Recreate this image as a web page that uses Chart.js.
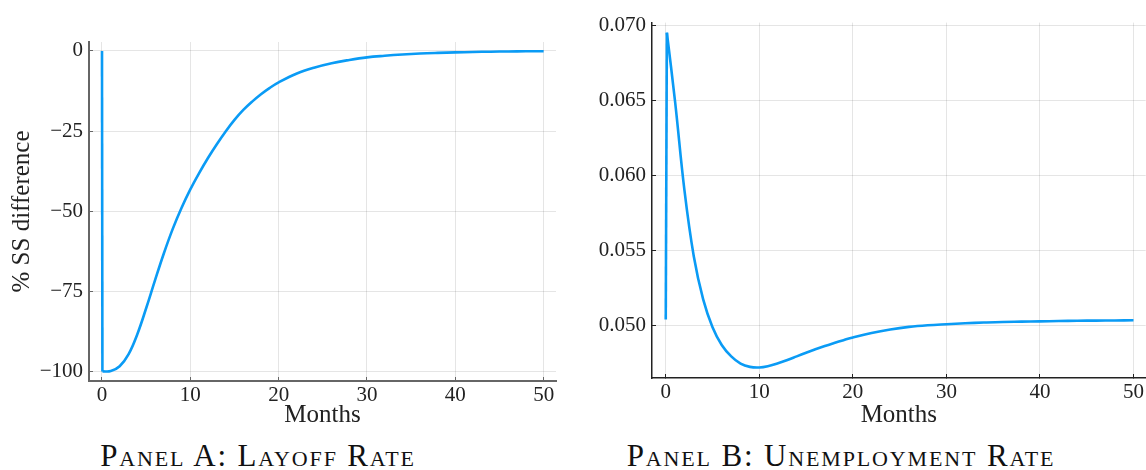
<!DOCTYPE html>
<html>
<head>
<meta charset="utf-8">
<script src="https://cdn.jsdelivr.net/npm/chart.js@4"></script>
<style>
	body { margin: 0; background: #fff; }
	#wrap { position: relative; width: 1146px; height: 470px; overflow: hidden; }
	.panel { position: absolute; top: 0; }
	.caption {
		position: absolute; top: 438px;
		font-family: 'Liberation Serif', serif; font-variant: small-caps;
		font-size: 31px; letter-spacing: 1.85px; color: #111; white-space: nowrap;
		transform: translateX(-50%);
	}
</style>
</head>
<body>
<div id="wrap">
	<canvas id="layoff" class="panel" style="left:0" width="573" height="430"></canvas>
	<canvas id="unemp" class="panel" style="left:573px" width="577" height="430"></canvas>
	<div class="caption" style="left:258px">Panel A: Layoff Rate</div>
	<div class="caption" style="left:841px">Panel B: Unemployment Rate</div>
</div>
<script>
// panel A: layoff rate, % difference from steady state
// first two points are the jump at t=0, the rest is the smooth response
var monthsA = [0, 0.05, 1, 2, 3, 4, 5, 6, 7, 8, 9, 10, 11, 12, 13, 14, 15, 16, 17, 18, 19, 20,
	22, 24, 26, 28, 30, 32, 34, 36, 38, 40, 42, 44, 46, 48, 50];
var layoffDiff = [0, -100, -99.9, -98.4, -94.7, -88.4, -80.3, -71.6, -63.2, -55.6, -49.0, -43.2, -38.1, -33.4,
	-29.1, -25.1, -21.5, -18.4, -15.8, -13.5, -11.5, -9.8, -7.1, -5.2, -3.8, -2.8, -2.0, -1.5, -1.1, -0.8,
	-0.6, -0.45, -0.32, -0.22, -0.15, -0.1, -0.08];

// panel B: unemployment rate
var monthsB = [0, 0.12, 1, 2, 3, 4, 5, 6, 7, 8, 9, 10, 11, 12, 13, 14, 15, 16, 17, 18, 19, 20,
	22, 24, 26, 28, 30, 32, 34, 36, 38, 40, 42, 44, 46, 48, 50];
var unempRate = [0.05042, 0.06950, 0.06490, 0.05900, 0.05460, 0.05175, 0.04990, 0.04870,
	0.04796, 0.04748, 0.04726, 0.04722, 0.04732, 0.04750, 0.04772, 0.04796, 0.04820, 0.04843, 0.04865,
	0.04885, 0.04904, 0.04922, 0.04952, 0.04975, 0.04992, 0.05003, 0.05010, 0.05016, 0.05021, 0.05025,
	0.05027, 0.05029, 0.05031, 0.05033, 0.05034, 0.05035, 0.05036];

var xTicks = [0, 10, 20, 30, 40, 50];
var yTicksA = [0, -25, -50, -75, -100];
var yTicksB = [0.050, 0.055, 0.060, 0.065, 0.070];

var serif = "'Liberation Serif', serif";
var lineBlue = '#0a9bf5';
var gridGray = 'rgba(0,0,0,0.1)';

// {x,y} points from index a to b (inclusive)
function to_points(xs, ys, a, b) {
	var pts = [];
	for (var i = a; i <= b; i++) {
		pts.push({x: xs[i], y: ys[i]});
	}
	return pts;
}

function fixed_ticks(values) {
	return function(scale) {
		scale.ticks = values.map(function(v) { return {value: v}; });
	};
}

// build one panel
var make_panel = function(id, opts) {
	var yTitle = opts.yTitle ? {
		display: true, text: opts.yTitle, color: '#222',
		font: {family: serif, size: 25}, padding: {top: 7, bottom: 0}
	} : {display: false};
	var last = opts.xs.length - 1;

	var line = function(pts, tension) {
		return {
			data: pts,
			borderColor: lineBlue,
			borderWidth: 2.6,
			pointRadius: 0,
			tension: tension,
			fill: false
		};
	};

	return new Chart(document.getElementById(id), {
		type: 'line',
		data: {
			datasets: [
				line(to_points(opts.xs, opts.ys, 0, 1), 0),      // jump at t=0
				line(to_points(opts.xs, opts.ys, 1, last), 0.4)  // response
			]
		},
		options: {
			responsive: false,
			animation: false,
			layout: {padding: {left: 0, top: opts.top, right: opts.right, bottom: 0}},
			plugins: {legend: {display: false}, tooltip: {enabled: false}},
			scales: {
				x: {
					type: 'linear',
					min: opts.xMin, max: opts.xMax,
					afterBuildTicks: fixed_ticks(xTicks),
					afterFit: function(scale) { scale.height = 430 - opts.bottom; },
					grid: {color: gridGray, lineWidth: 1, drawTicks: true, tickLength: -4,
						tickColor: opts.axisColor, tickWidth: 1},
					border: {display: true, color: opts.axisColor, width: opts.axisWidth},
					ticks: {color: '#222', font: {family: serif, size: 21}, padding: 6, maxRotation: 0},
					title: {display: true, text: 'Months', color: '#222',
						font: {family: serif, size: 25}, padding: {top: 0, bottom: 0}}
				},
				y: {
					min: opts.yMin, max: opts.yMax,
					afterBuildTicks: fixed_ticks(opts.yTicks),
					afterFit: function(scale) { scale.width = opts.left; },
					grid: {color: gridGray, lineWidth: 1, drawTicks: true, tickLength: -4,
						tickColor: opts.axisColor, tickWidth: 1},
					border: {display: true, color: opts.axisColor, width: opts.axisWidth},
					ticks: {color: '#222', font: {family: serif, size: 21}, padding: 10,
						callback: opts.fmt},
					title: yTitle
				}
			}
		}
	});
};

make_panel('layoff', {
	xs: monthsA, ys: layoffDiff,
	xMin: -1.47, xMax: 51.4, yMin: -103, yMax: 2.8,
	yTicks: yTicksA, yTitle: '% SS difference',
	left: 89, top: 42, right: 17, bottom: 381,
	axisColor: '#666', axisWidth: 2,
	fmt: function(v) { return String(v).replace('-', '\u2212'); }
});

make_panel('unemp', {
	xs: monthsB, ys: unempRate,
	xMin: -1.47, xMax: 51.3, yMin: 0.04652, yMax: 0.07017,
	yTicks: yTicksB, yTitle: null,
	left: 79, top: 21, right: 0, bottom: 378,
	axisColor: '#222', axisWidth: 1.5,
	fmt: function(v) { return v.toFixed(3); }
});
</script>
</body>
</html>
